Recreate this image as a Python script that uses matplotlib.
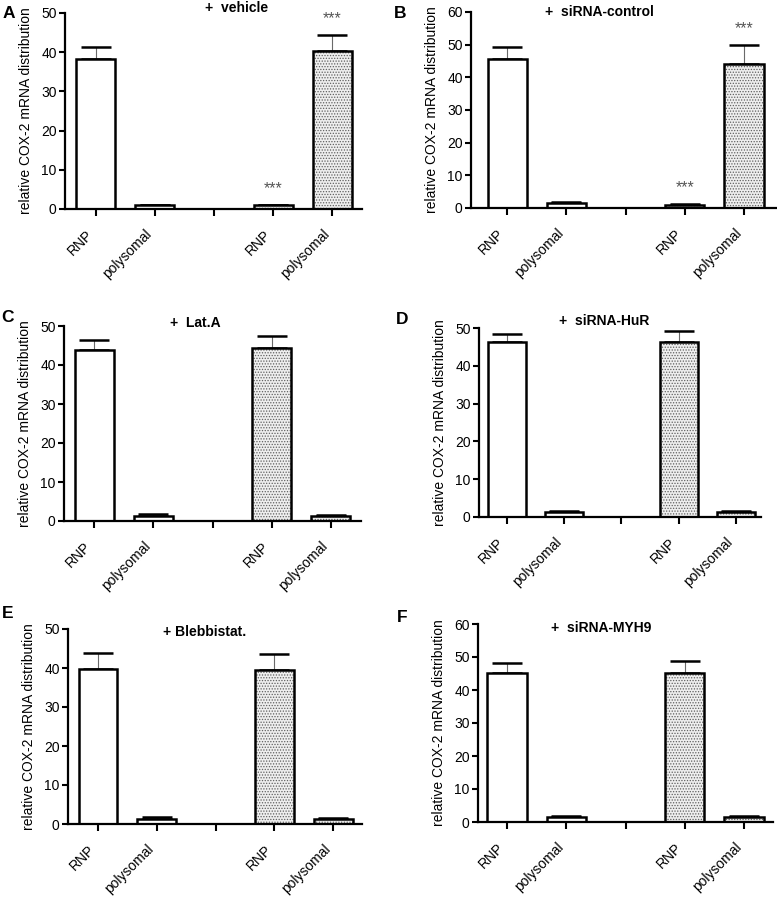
import numpy as np
import matplotlib
import matplotlib.pyplot as plt
from matplotlib.transforms import ScaledTranslation

matplotlib.use('Agg')

plt.rcParams['font.family'] = ['Liberation Sans', 'DejaVu Sans']
plt.rcParams['hatch.linewidth'] = 0.6

# categories (the middle slot is an empty gap with only a tick)
tick_labels = ['RNP', 'polysomal', '', 'RNP', 'polysomal']
bar_slots = [0, 1, 3, 4]

letters = ['A', 'B', 'C', 'D', 'E', 'F']
titles = ['+  vehicle', '+  siRNA-control', '+  Lat.A', '+  siRNA-HuR',
          '+ Blebbistat.', '+  siRNA-MYH9']
y_max = [50, 60, 50, 50, 50, 60]

# mean values (RNP, polysomal, RNP, polysomal)
vehicle = [38.2, 0.9, 0.9, 40.2]
sirna_control = [45.5, 1.5, 1.0, 44.2]
lat_a = [43.8, 1.4, 44.4, 1.3]
sirna_hur = [46.2, 1.3, 46.2, 1.3]
blebbistat = [39.7, 1.3, 39.6, 1.2]
sirna_myh9 = [45.2, 1.6, 45.3, 1.6]

# upper error (SEM)
vehicle_err = [3.1, 0.2, 0.2, 4.2]
sirna_control_err = [3.8, 0.25, 0.2, 5.8]
lat_a_err = [2.5, 0.3, 3.1, 0.3]
sirna_hur_err = [2.3, 0.2, 3.0, 0.2]
blebbistat_err = [4.2, 0.4, 4.0, 0.4]
sirna_myh9_err = [3.0, 0.3, 3.4, 0.3]

# which bars carry "***"
vehicle_stars = [2, 3]
sirna_control_stars = [2, 3]

means = [vehicle, sirna_control, lat_a, sirna_hur, blebbistat, sirna_myh9]
errs = [vehicle_err, sirna_control_err, lat_a_err, sirna_hur_err,
        blebbistat_err, sirna_myh9_err]
stars = [vehicle_stars, sirna_control_stars, [], [], [], []]

# layout in pixels: axes left, right, top, bottom ; x-limits
W, H = 777, 899
boxes = [(65, 362, 13, 209), (471, 776, 12, 208),
         (64, 361, 326, 521), (479, 761, 328, 517),
         (68, 362, 629, 824), (478, 773, 624, 822)]
xlims = [(-0.52, 4.5), (-0.61, 4.54), (-0.51, 4.51),
         (-0.49, 4.44), (-0.51, 4.49), (-0.49, 4.49)]
title_pos = [(237, 8), (599, 12), (195, 323), (604, 321), (205, 632), (601, 628)]
letter_pos = [(9, 13), (400, 14), (8, 318), (402, 319), (8, 613), (402, 617)]

fig = plt.figure(figsize=(W / 100, H / 100), dpi=100)
shift = ScaledTranslation(6 / 100, 0, fig.dpi_scale_trans)

for i in range(6):
    l, r, t, b = boxes[i]
    ax = fig.add_axes([l / W, 1 - b / H, (r - l) / W, (b - t) / H])

    vals = np.array(means[i])
    up = np.array(errs[i])

    # first group plain white, second group stippled
    ax.bar(bar_slots[:2], vals[:2], width=0.66, color='white',
           edgecolor='black', linewidth=1.8, zorder=2)
    ax.bar(bar_slots[2:], vals[2:], width=0.66, color='#eeeeee',
           edgecolor='#606060', hatch='......', linewidth=0, zorder=2)
    ax.bar(bar_slots[2:], vals[2:], width=0.66, color='none',
           edgecolor='black', linewidth=1.8, zorder=3)

    _, caps, _ = ax.errorbar(bar_slots, vals, yerr=[np.zeros(4), up], fmt='none',
                             ecolor='#6a6a6a', elinewidth=0.8, capsize=11,
                             capthick=1.8, zorder=1)
    for c in caps:
        c.set_markeredgecolor('black')

    for k in stars[i]:
        ax.annotate('***', (bar_slots[k], vals[k] + up[k]), xytext=(0, 9),
                    textcoords='offset pixels', ha='center', va='bottom',
                    fontsize=11.5, color='#555555')

    ax.set_xlim(*xlims[i])
    ax.set_ylim(0, y_max[i])
    ax.set_yticks(np.arange(0, y_max[i] + 1, 10))
    ax.set_xticks(range(5))
    ax.set_xticklabels(tick_labels, rotation=45, ha='right', fontsize=10)
    for lab in ax.get_xticklabels():
        lab.set_transform(lab.get_transform() + shift)
    ax.tick_params(axis='y', labelsize=10, width=1.5, length=4, pad=2)
    ax.tick_params(axis='x', width=1.5, length=5, pad=8)
    for s in ['top', 'right']:
        ax.spines[s].set_visible(False)
    for s in ['left', 'bottom']:
        ax.spines[s].set_linewidth(1.6)
    ax.set_ylabel('relative COX-2 mRNA distribution', fontsize=10, labelpad=6)

    tx, ty = title_pos[i]
    fig.text(tx / W, 1 - ty / H, titles[i], ha='center', va='center',
             fontsize=10, fontweight='bold')
    lx, ly = letter_pos[i]
    fig.text(lx / W, 1 - ly / H, letters[i], ha='center', va='center',
             fontsize=12.5, fontweight='bold')

fig.savefig('out.png', dpi=100)
